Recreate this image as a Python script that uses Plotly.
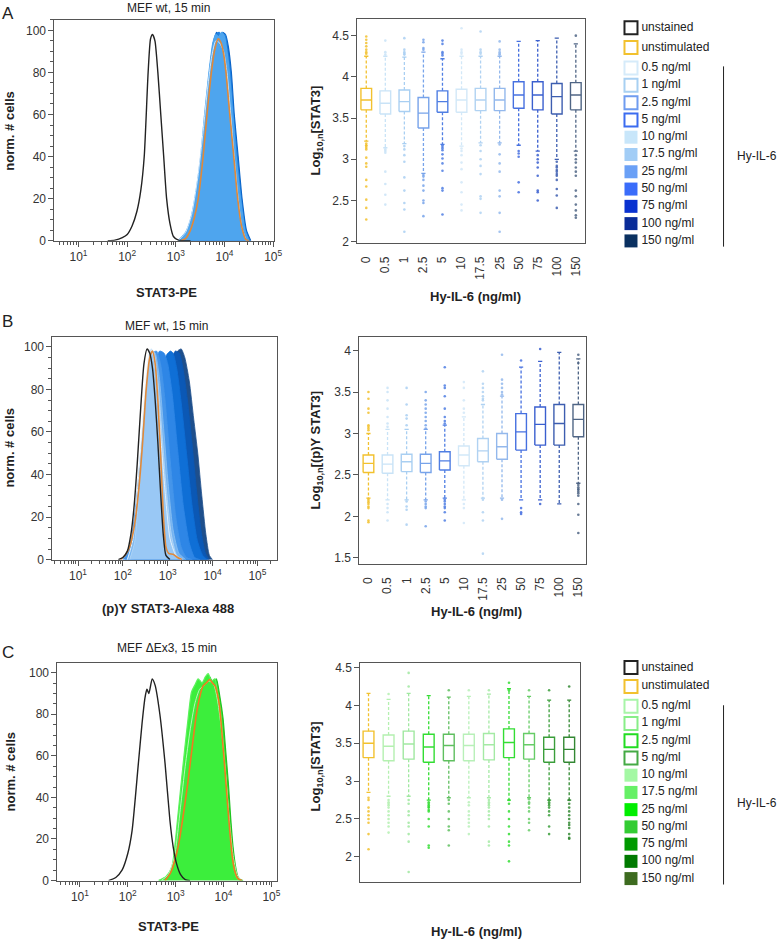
import plotly.graph_objects as go

W, H = 784, 947
FONT = "Liberation Sans, Arial, sans-serif"

# ---------------- data ----------------
conc = ["0", "0.5", "1", "2.5", "5", "10", "17.5", "25", "50", "75", "100", "150"]
legend_labels = ["unstained", "unstimulated", "0.5 ng/ml", "1 ng/ml", "2.5 ng/ml", "5 ng/ml",
                 "10 ng/ml", "17.5 ng/ml", "25 ng/ml", "50 ng/ml", "75 ng/ml", "100 ng/ml", "150 ng/ml"]
legend_open = [True, True, True, True, True, True, False, False, False, False, False, False, False]
legend_blue = ["#222222", "#f2c12e", "#d6ebfa", "#a8d0f2", "#6f9cf0", "#3c6cf0", "#c8e6fa",
               "#a2cdf6", "#6aa0f6", "#3a6cfa", "#0a32d0", "#0a2c98", "#0a3060"]
legend_green = ["#222222", "#f2c12e", "#a8f5a8", "#88ee88", "#22dd22", "#44aa44", "#a4f8a4",
                "#66f066", "#00ee00", "#33cc33", "#009900", "#007a00", "#3d6b1f"]

# panel A histogram (log10 intensity, % of max)
A_unst_x = [1.6, 1.75, 1.9, 2.0, 2.1, 2.2, 2.28, 2.35, 2.43, 2.48, 2.52, 2.57, 2.63, 2.69, 2.75, 2.81, 2.88, 2.95, 3.05, 3.3]
A_unst_y = [0, 0.3, 1.5, 3, 7, 14, 24, 40, 80, 96, 98, 95, 80, 60, 40, 20, 8, 2, 0.3, 0]
A_stim_x = [3.1, 3.2, 3.3, 3.38, 3.46, 3.56, 3.64, 3.73, 3.8, 3.87, 3.93, 3.98, 4.03, 4.1, 4.19, 4.27, 4.35, 4.44, 4.5]
A_stim_y = [0, 1, 5, 11, 20, 40, 60, 80, 91, 96, 94, 89, 80, 62, 40, 20, 7, 0.5, 0]
A_dark_x = [3.08, 3.22, 3.32, 3.42, 3.53, 3.62, 3.7, 3.78, 3.84, 3.9, 3.96, 4.02, 4.08, 4.14, 4.2, 4.28, 4.36, 4.45, 4.54]
A_dark_y = [0, 4, 10, 20, 40, 60, 80, 95, 99, 96, 99, 98, 92, 80, 60, 40, 20, 5, 0]
A_mid_x = [3.06, 3.21, 3.31, 3.4, 3.52, 3.6, 3.69, 3.77, 3.83, 3.89, 3.95, 4.01, 4.06, 4.12, 4.18, 4.26, 4.34, 4.43, 4.52]
A_mid_y = [0, 4, 10, 20, 40, 60, 80, 94, 98, 99, 97, 98, 91, 80, 60, 40, 20, 5, 0]
A_fill_x = [3.05, 3.2, 3.3, 3.39, 3.51, 3.59, 3.68, 3.76, 3.82, 3.88, 3.94, 4.0, 4.05, 4.1, 4.17, 4.24, 4.33, 4.42, 4.5]
A_fill_y = [0, 4, 10, 20, 40, 60, 80, 94, 98, 97, 99, 97, 90, 80, 60, 40, 20, 5, 0]
A_line_x = [3.05, 3.2, 3.32, 3.45, 3.56, 3.65, 3.74, 3.82, 3.9, 3.98, 4.05, 4.12, 4.2, 4.28, 4.36, 4.45]
A_line_y = [0, 4, 12, 30, 52, 72, 88, 95, 94, 90, 80, 62, 40, 20, 6, 0]

# panel B histogram
B_unst_x = [1.9, 2.0, 2.1, 2.18, 2.25, 2.32, 2.4, 2.47, 2.54, 2.6, 2.66, 2.72, 2.78, 2.84, 2.9, 2.96, 3.05]
B_unst_y = [0, 1, 4, 12, 25, 45, 72, 92, 99, 97, 90, 75, 55, 32, 12, 2, 0]
B_stim_x = [1.95, 2.05, 2.15, 2.25, 2.35, 2.44, 2.52, 2.6, 2.66, 2.72, 2.78, 2.84, 2.9, 2.96, 3.02, 3.12, 3.22, 3.32]
B_stim_y = [0, 2, 6, 15, 32, 55, 80, 95, 98, 92, 75, 50, 22, 6, 3, 2.5, 1, 0]
B_150_x = [2.25, 2.45, 2.65, 2.85, 3.0, 3.12, 3.22, 3.3, 3.38, 3.48, 3.58, 3.67, 3.76, 3.85, 3.93, 4.0]
B_150_y = [0, 4, 16, 42, 70, 90, 98, 99, 95, 84, 66, 50, 30, 12, 2, 0]
B_100_x = [2.2, 2.4, 2.6, 2.8, 2.95, 3.07, 3.17, 3.26, 3.34, 3.44, 3.54, 3.64, 3.74, 3.84, 3.92]
B_100_y = [0, 5, 20, 50, 78, 93, 98, 97, 90, 75, 55, 33, 14, 3, 0]
B_75_x = [2.15, 2.35, 2.55, 2.72, 2.86, 2.97, 3.06, 3.12, 3.2, 3.3, 3.42, 3.54, 3.66, 3.78, 3.88]
B_75_y = [0, 7, 27, 60, 86, 96, 98, 97, 90, 74, 50, 26, 9, 2, 0]
B_50_x = [2.05, 2.22, 2.4, 2.56, 2.7, 2.82, 2.92, 3.0, 3.1, 3.22, 3.35, 3.48, 3.6, 3.72]
B_50_y = [0, 9, 35, 68, 90, 98, 97, 92, 78, 52, 25, 8, 1, 0]
B_25_x = [2.0, 2.15, 2.3, 2.43, 2.55, 2.66, 2.75, 2.84, 2.94, 3.05, 3.18, 3.3, 3.42, 3.55]
B_25_y = [0, 6, 28, 58, 85, 97, 98, 92, 75, 48, 20, 6, 1, 0]
B_17_x = [2.1, 2.22, 2.34, 2.45, 2.55, 2.64, 2.72, 2.81, 2.9, 3.0, 3.12, 3.25, 3.4]
B_17_y = [0, 7, 30, 60, 86, 98, 97, 86, 64, 38, 14, 3, 0]
B_10_x = [2.15, 2.26, 2.36, 2.46, 2.55, 2.63, 2.7, 2.78, 2.87, 2.97, 3.08, 3.2, 3.35]
B_10_y = [0, 8, 32, 64, 88, 99, 97, 84, 60, 33, 12, 2, 0]
B_line_x = [2.1, 2.22, 2.34, 2.45, 2.54, 2.61, 2.68, 2.76, 2.85, 2.95, 3.05, 3.18, 3.3]
B_line_y = [0, 9, 36, 68, 90, 99, 96, 82, 56, 30, 10, 2, 0]

# panel C histogram
C_unst_x = [1.6, 1.75, 1.88, 2.0, 2.09, 2.22, 2.3, 2.36, 2.4, 2.44, 2.51, 2.57, 2.67, 2.78, 2.88, 2.95, 3.02, 3.1, 3.2, 3.3]
C_unst_y = [0, 1.5, 5, 13, 24, 56, 76, 88, 92, 90, 97, 94, 80, 56, 29, 16, 8, 3, 0.5, 0]
C_stim_x = [2.78, 2.9, 3.05, 3.15, 3.26, 3.35, 3.43, 3.5, 3.57, 3.64, 3.71, 3.77, 3.82, 3.87, 3.92, 3.97, 4.02, 4.08, 4.13, 4.18, 4.23, 4.3, 4.38]
C_stim_y = [0, 4, 16, 30, 48, 65, 79.5, 88, 93.5, 95, 96.7, 95, 93.8, 90, 83, 70, 56, 38, 24, 12, 5, 1, 0]
C_dark_x = [2.66, 2.82, 2.94, 3.07, 3.14, 3.21, 3.28, 3.35, 3.42, 3.5, 3.58, 3.65, 3.71, 3.78, 3.85, 3.92, 3.99, 4.04, 4.1, 4.15, 4.2, 4.25, 4.3, 4.35, 4.41]
C_dark_y = [0, 2, 6, 30, 46, 62, 77, 89, 93, 96, 94, 98, 98, 95, 97, 89, 78, 64, 47, 30, 16, 7, 2, 0.5, 0]
C_fill_x = [2.64, 2.8, 2.92, 3.05, 3.12, 3.19, 3.26, 3.33, 3.4, 3.47, 3.55, 3.62, 3.68, 3.75, 3.82, 3.88, 3.95, 4.0, 4.06, 4.11, 4.16, 4.21, 4.26, 4.31, 4.37]
C_fill_y = [0, 2, 6.5, 32, 48, 63.5, 78, 90.6, 94, 97, 95, 98, 99.5, 96, 97, 90, 79.5, 65, 47.8, 30, 16, 7, 2, 0.5, 0]
C_line_x = [2.7, 2.85, 2.98, 3.1, 3.2, 3.3, 3.4, 3.5, 3.6, 3.7, 3.8, 3.88, 3.96, 4.04, 4.12, 4.2, 4.28, 4.36]
C_line_y = [0, 3, 12, 35, 55, 72, 85, 92, 94, 96, 94, 86, 72, 52, 30, 12, 3, 0]

# box plots: quartiles, whisker ends, outliers
A_q1 = [3.60, 3.55, 3.58, 3.38, 3.57, 3.57, 3.59, 3.59, 3.62, 3.60, 3.55, 3.60]
A_med = [3.72, 3.68, 3.70, 3.56, 3.70, 3.72, 3.72, 3.72, 3.78, 3.78, 3.76, 3.78]
A_q3 = [3.86, 3.83, 3.84, 3.75, 3.83, 3.85, 3.86, 3.86, 3.94, 3.94, 3.92, 3.93]
A_lo = [3.22, 3.14, 3.19, 2.83, 3.18, 3.16, 3.20, 3.20, 3.17, 3.10, 3.00, 3.10]
A_hi = [4.25, 4.25, 4.24, 4.30, 4.22, 4.25, 4.25, 4.25, 4.43, 4.44, 4.47, 4.40]
A_out = [
    [4.49, 4.45, 4.41, 4.37, 4.33, 4.30, 4.28, 3.19, 3.17, 3.16, 3.14, 3.12, 3.02, 2.95, 2.91, 2.75, 2.67, 2.51, 2.41, 2.27],
    [4.44, 4.30, 4.27, 3.12, 3.10, 3.08, 2.85, 2.70, 2.57, 2.45],
    [4.47, 4.33, 4.30, 4.28, 4.27, 3.16, 3.12, 3.05, 2.97, 2.78, 2.62, 2.47, 2.39, 2.12],
    [4.45, 4.42, 4.35, 4.33, 2.81, 2.79, 2.75, 2.68, 2.62, 2.50, 2.47, 2.31],
    [4.44, 4.40, 4.30, 4.28, 4.26, 3.17, 3.15, 3.13, 3.11, 3.06, 3.01, 2.95, 2.86, 2.65, 2.62, 2.33],
    [4.59, 4.33, 4.30, 4.28, 3.13, 3.10, 3.05, 2.96, 2.88, 2.72, 2.60, 2.45, 2.38],
    [4.55, 4.33, 4.30, 4.28, 3.17, 3.10, 3.00, 2.92, 2.82, 2.55, 2.52, 2.35],
    [4.43, 4.33, 4.30, 4.28, 4.27, 3.18, 3.06, 2.95, 2.85, 2.62, 2.55, 2.35, 2.12],
    [3.10, 3.07, 3.03, 2.72, 2.60],
    [3.05, 3.00, 2.96, 2.90, 2.80, 2.62, 2.60, 2.50],
    [2.97, 2.92, 2.90, 2.87, 2.85, 2.82, 2.80, 2.75, 2.64, 2.56, 2.41],
    [4.50, 3.05, 3.00, 2.96, 2.90, 2.85, 2.80, 2.62, 2.55, 2.45, 2.38, 2.32, 2.29],
]

B_q1 = [2.53, 2.52, 2.54, 2.53, 2.56, 2.61, 2.66, 2.69, 2.80, 2.86, 2.86, 2.96]
B_med = [2.64, 2.63, 2.66, 2.64, 2.67, 2.74, 2.79, 2.84, 3.02, 3.11, 3.12, 3.17]
B_q3 = [2.74, 2.74, 2.75, 2.75, 2.78, 2.85, 2.94, 3.00, 3.24, 3.32, 3.35, 3.35]
B_lo = [2.22, 2.20, 2.20, 2.20, 2.22, 2.20, 2.22, 2.22, 2.20, 2.20, 2.15, 2.40]
B_hi = [3.00, 3.05, 3.05, 3.05, 3.10, 3.20, 3.35, 3.45, 3.80, 3.87, 3.98, 3.90]
B_out = [
    [3.50, 3.42, 3.30, 3.25, 3.10, 3.08, 3.06, 3.04, 2.21, 2.19, 2.17, 2.15, 2.12, 2.10, 1.95, 1.93],
    [3.55, 3.50, 3.40, 3.30, 3.20, 3.12, 3.08, 2.15, 2.10, 2.05, 1.95],
    [3.55, 3.35, 3.22, 3.18, 3.10, 2.18, 2.12, 2.08, 1.90],
    [3.50, 3.40, 3.35, 3.30, 3.25, 3.20, 3.15, 3.10, 3.06, 2.18, 2.15, 2.12, 2.10, 1.88],
    [3.80, 3.58, 3.55, 3.45, 3.30, 3.20, 3.15, 3.12, 2.20, 2.18, 2.15, 2.12, 2.10, 2.05, 1.95],
    [3.62, 3.55, 3.40, 3.30, 3.25, 2.15, 2.10, 1.92],
    [3.75, 3.60, 3.55, 3.50, 3.45, 3.42, 3.40, 2.20, 2.05, 1.95, 1.55],
    [3.95, 3.65, 3.60, 3.55, 3.50, 3.47, 2.20, 1.97],
    [3.88, 2.10, 2.05, 2.03],
    [4.02, 2.15],
    [],
    [3.95, 3.85, 2.38, 2.35, 2.33, 2.32, 2.30, 2.28, 2.25, 2.15, 2.02, 1.80],
]

C_q1 = [3.31, 3.27, 3.29, 3.25, 3.27, 3.27, 3.28, 3.31, 3.29, 3.25, 3.25]
C_med = [3.50, 3.46, 3.49, 3.45, 3.47, 3.47, 3.48, 3.51, 3.48, 3.42, 3.42]
C_q3 = [3.66, 3.61, 3.66, 3.62, 3.62, 3.62, 3.63, 3.69, 3.63, 3.58, 3.58]
C_lo = [2.85, 2.80, 2.80, 2.75, 2.78, 2.78, 2.78, 2.75, 2.78, 2.75, 2.75]
C_hi = [4.16, 4.08, 4.16, 4.13, 4.11, 4.12, 4.15, 4.22, 4.12, 4.07, 4.07]
C_out = [
    [2.78, 2.75, 2.65, 2.60, 2.55, 2.50, 2.45, 2.30, 2.10],
    [4.15, 2.75, 2.72, 2.70, 2.68, 2.65, 2.60, 2.55, 2.50, 2.45, 2.40, 2.32],
    [4.43, 4.25, 2.75, 2.70, 2.60, 2.55, 2.45, 2.40, 2.30, 2.20, 1.80],
    [2.72, 2.70, 2.68, 2.66, 2.65, 2.62, 2.60, 2.50, 2.40, 2.15, 2.12],
    [4.20, 2.75, 2.70, 2.60, 2.50, 2.40, 2.35, 2.15],
    [4.20, 2.72, 2.68, 2.60, 2.55, 2.50, 2.45, 2.40, 2.30],
    [4.20, 2.75, 2.72, 2.70, 2.68, 2.65, 2.60, 2.55, 2.50, 2.40, 2.20, 2.15],
    [4.30, 4.20, 2.75, 2.70, 2.60, 2.50, 2.40, 2.30, 2.20, 2.15, 1.94],
    [4.20, 2.76, 2.72, 2.70, 2.65, 2.60, 2.50, 2.45, 2.35],
    [4.20, 2.75, 2.72, 2.70, 2.68, 2.65, 2.60, 2.55, 2.40, 2.30],
    [4.25, 2.75, 2.70, 2.65, 2.60, 2.55, 2.50, 2.45, 2.42, 2.38, 2.30, 2.25, 2.24],
]

blue_box = ["#f2c12e", "#c9e3f7", "#a9cff2", "#77a3ea", "#4f7ee3", "#d2e8f8",
            "#b0d2f2", "#93b8ec", "#4670e0", "#3a5fcf", "#3d5eb0", "#4f6585"]
green_box = ["#f2c12e", "#b4f0b0", "#a0e8a0", "#33dd33", "#5fbf5f", "#b8f0b8",
             "#a4eaa4", "#33dd33", "#66cc66", "#3a9e3a", "#338833"]


# ---------------- helpers ----------------
def px_x(a, b):
    return [a / W, b / W]


def px_y(top, bottom):
    return [1 - bottom / H, 1 - top / H]


fig = go.Figure()


def hist(xa, ya, lx, ly, color, fill=None, width=1.2):
    fig.add_trace(go.Scatter(
        x=[10 ** v for v in lx], y=ly, mode="lines",
        line=dict(color=color, width=width, shape="spline", smoothing=0.6),
        fill="tozeroy" if fill else None, fillcolor=fill,
        xaxis=xa, yaxis=ya, hoverinfo="skip", showlegend=False))


def boxes(xa, ya, q1, med, q3, lo, hi, outl, colors, hw=0.28, cw=0.11):
    for p in range(len(q1)):
        c = colors[p]
        fig.add_trace(go.Scatter(
            x=[p] * len(outl[p]), y=outl[p], mode="markers",
            marker=dict(color=c, size=2.6, opacity=0.85), xaxis=xa, yaxis=ya,
            hoverinfo="skip", showlegend=False))
        fig.add_trace(go.Scatter(
            x=[p, p, None, p, p], y=[q3[p], hi[p], None, q1[p], lo[p]], mode="lines",
            line=dict(color=c, width=1.3, dash="3px,2px"), xaxis=xa, yaxis=ya,
            hoverinfo="skip", showlegend=False))
        fig.add_trace(go.Scatter(
            x=[p - cw, p + cw, None, p - cw, p + cw], y=[hi[p], hi[p], None, lo[p], lo[p]],
            mode="lines", line=dict(color=c, width=1.3), xaxis=xa, yaxis=ya,
            hoverinfo="skip", showlegend=False))
        fig.add_trace(go.Scatter(
            x=[p - hw, p + hw, p + hw, p - hw, p - hw, None, p - hw, p + hw],
            y=[q1[p], q1[p], q3[p], q3[p], q1[p], None, med[p], med[p]],
            mode="lines", line=dict(color=c, width=1.4), xaxis=xa, yaxis=ya,
            hoverinfo="skip", showlegend=False))


# ---------------- panel A ----------------
hist("x", "y", A_dark_x, A_dark_y, "#0a64c8", "#0a64c8")
hist("x", "y", A_mid_x, A_mid_y, "#1f7fe0", "#1f7fe0")
hist("x", "y", A_fill_x, A_fill_y, "#4ea5ee", "#4ea5ee")
hist("x", "y", A_line_x, A_line_y, "#cfe6fb", None, 1)
hist("x", "y", A_stim_x, A_stim_y, "#e0893a", None, 1.6)
hist("x", "y", A_unst_x, A_unst_y, "#222222", None, 1.4)
boxes("x2", "y2", A_q1, A_med, A_q3, A_lo, A_hi, A_out, blue_box)

# ---------------- panel B ----------------
for lx, ly, col, fc in [(B_150_x, B_150_y, "#1e4f8c", "#1e4f8c"),
                        (B_100_x, B_100_y, "#0b58b5", "#0b58b5"),
                        (B_75_x, B_75_y, "#0f6fd6", "#0f6fd6"),
                        (B_50_x, B_50_y, "#2e86e6", "#2e86e6"),
                        (B_25_x, B_25_y, "#4595ea", "#4595ea"),
                        (B_17_x, B_17_y, "#8cc2f2", "rgba(150,200,245,0.6)"),
                        (B_10_x, B_10_y, "#b7d9f6", "rgba(190,222,250,0.5)")]:
    hist("x3", "y3", lx, ly, col, fc, 0.8)
hist("x3", "y3", B_line_x, B_line_y, "#e2f0fc", None, 1)
hist("x3", "y3", B_stim_x, B_stim_y, "#e0893a", None, 1.6)
hist("x3", "y3", B_unst_x, B_unst_y, "#222222", None, 1.4)
boxes("x4", "y4", B_q1, B_med, B_q3, B_lo, B_hi, B_out, blue_box)

# ---------------- panel C ----------------
hist("x5", "y5", C_dark_x, C_dark_y, "#1fc41f", "#22d622")
hist("x5", "y5", C_fill_x, C_fill_y, "#5df25d", "#3cee3c")
hist("x5", "y5", C_line_x, C_line_y, "#b8f7b8", None, 1)
hist("x5", "y5", C_stim_x, C_stim_y, "#f07a20", None, 1.6)
hist("x5", "y5", C_unst_x, C_unst_y, "#222222", None, 1.4)
boxes("x6", "y6", C_q1, C_med, C_q3, C_lo, C_hi, C_out, green_box, hw=0.27, cw=0.1)

# ---------------- legends (pixel axis) ----------------
def legend(rows_y, colors):
    for i, lab in enumerate(legend_labels):
        opn = legend_open[i]
        fig.add_trace(go.Scatter(
            x=[637.5], y=[rows_y[i]], mode="markers",
            marker=dict(symbol="square", size=13,
                        color="white" if opn else colors[i],
                        line=dict(color=colors[i], width=2 if opn else 0)),
            xaxis="x8", yaxis="y8", hoverinfo="skip", showlegend=False))
    fig.add_trace(go.Scatter(
        x=[648] * len(legend_labels), y=rows_y, mode="text", text=legend_labels,
        textposition="middle right", textfont=dict(family=FONT, size=12, color="#222"),
        xaxis="x8", yaxis="y8", hoverinfo="skip", showlegend=False))


rows_a = [26, 46] + [66.7 + 17.45 * j for j in range(11)]
rows_c = [672, 691] + [711 + 17.4 * j for j in range(11)]
legend(rows_a, legend_blue)
legend(rows_c, legend_green)
for top, bot in [(65, 247), (710, 891)]:
    fig.add_trace(go.Scatter(x=[731, 731], y=[top, bot], mode="lines",
                             line=dict(color="#222", width=1), xaxis="x8", yaxis="y8",
                             hoverinfo="skip", showlegend=False))

# ---------------- axes ----------------
tick_font = dict(family=FONT, size=12, color="#333")
frame = dict(showline=True, linecolor="#555", linewidth=1, mirror=True, showgrid=False,
             zeroline=False, ticks="outside", ticklen=5, tickcolor="#555", tickfont=tick_font,
             fixedrange=True)
minor_log = [k * 10 ** d for d in range(0, 6) for k in range(2, 10)]


def hist_axes(n, xdom, ydom, xr, yr):
    xa = dict(frame, domain=xdom, type="log", range=xr, anchor="y%s" % n,
              tickvals=[10, 100, 1e3, 1e4, 1e5],
              ticktext=["10<sup>%d</sup>" % k for k in range(1, 6)],
              minor=dict(tickmode="array", tickvals=minor_log, ticks="outside",
                         ticklen=3, tickcolor="#555"))
    ya = dict(frame, domain=ydom, range=yr, anchor="x%s" % n, tickvals=[0, 20, 40, 60, 80, 100],
              minor=dict(dtick=5, ticks="outside", ticklen=3, tickcolor="#555"))
    return xa, ya


def box_axes(n, xdom, ydom, xr, yr, ytv, labels=True):
    xa = dict(frame, domain=xdom, range=xr, anchor="y%s" % n, ticks="",
              tickvals=list(range(len(conc))), ticktext=conc, tickangle=-90,
              showticklabels=labels, ticklabelstandoff=8)
    ya = dict(frame, domain=ydom, range=yr, anchor="x%s" % n, tickvals=ytv,
              ticktext=[("%g" % v) for v in ytv])
    return xa, ya


lay = {}
lay["xaxis"], lay["yaxis"] = hist_axes("", px_x(55, 277), px_y(18, 241), [0.505, 5.02], [0, 105])
lay["xaxis2"], lay["yaxis2"] = box_axes(2, px_x(361, 591), px_y(17, 243), [-0.47, 11.48],
                                        [1.988, 4.704], [2, 2.5, 3, 3.5, 4, 4.5])
lay["xaxis3"], lay["yaxis3"] = hist_axes(3, px_x(53, 280), px_y(338, 563), [0.43, 5.44], [0, 104.7])
lay["xaxis4"], lay["yaxis4"] = box_axes(4, px_x(363, 592), px_y(338, 567), [-0.48, 11.40],
                                        [1.43, 4.167], [1.5, 2, 2.5, 3, 3.5, 4])
lay["xaxis5"], lay["yaxis5"] = hist_axes(5, px_x(58, 280), px_y(667, 887), [0.53, 5.12], [0, 104.8])
lay["xaxis6"], lay["yaxis6"] = box_axes(6, px_x(364, 586), px_y(667, 888), [-0.41, 10.54],
                                        [1.673, 4.565], [2, 2.5, 3, 3.5, 4, 4.5], labels=False)
lay["xaxis7"] = dict(domain=px_x(364, 586), range=[-0.37, 11.23], anchor="y6", overlaying="x6",
                     showline=False, showgrid=False, zeroline=False, ticks="",
                     tickvals=list(range(len(conc))), ticktext=conc, tickangle=-90,
                     tickfont=tick_font, fixedrange=True, ticklabelstandoff=8)
lay["xaxis8"] = dict(domain=[0, 1], range=[0, W], anchor="y8", visible=False, fixedrange=True)
lay["yaxis8"] = dict(domain=[0, 1], range=[H, 0], anchor="x8", visible=False, fixedrange=True)

# ---------------- text ----------------
ann = []


def text(x, y, s, size=12, bold=False, angle=0, anchor="center"):
    ann.append(dict(x=x / W, y=1 - y / H, xref="paper", yref="paper", showarrow=False,
                    text="<b>%s</b>" % s if bold else s, textangle=angle,
                    font=dict(family=FONT, size=size, color="#222"),
                    xanchor=anchor, yanchor="middle"))


text(8, 12, "A", 17)
text(8, 323, "B", 17)
text(8, 657, "C", 17)
text(170, 6, "MEF wt, 15 min")
text(168, 327, "MEF wt, 15 min")
text(169, 652, "MEF ΔEx3, 15 min")
text(10, 130, "norm. # cells", 13, True, -90)
text(10, 450, "norm. # cells", 13, True, -90)
text(11, 777, "norm. # cells", 13, True, -90)
text(168, 293, "STAT3-PE", 13, True)
text(170, 612, "(p)Y STAT3-Alexa 488", 13, True)
text(170, 933, "STAT3-PE", 13, True)
text(320, 130, "Log<sub>10,n</sub>[STAT3]", 13, True, -90)
text(320, 452, "Log<sub>10,n</sub>[(p)Y STAT3]", 13, True, -90)
text(320, 772, "Log<sub>10,n</sub>[STAT3]", 13, True, -90)
text(480, 297, "Hy-IL-6 (ng/ml)", 13, True)
text(481, 615, "Hy-IL-6 (ng/ml)", 13, True)
text(481, 938, "Hy-IL-6 (ng/ml)", 13, True)
text(743, 155, "Hy-IL-6", 12, anchor="left")
text(743, 809, "Hy-IL-6", 12, anchor="left")

fig.update_layout(lay)
fig.update_layout(width=W, height=H, margin=dict(l=0, r=0, t=0, b=0),
                  paper_bgcolor="white", plot_bgcolor="rgba(0,0,0,0)",
                  showlegend=False, annotations=ann, font=dict(family=FONT))
fig.write_html("out.html", config={"displayModeBar": False},
               post_script="document.body.style.margin='0';")
